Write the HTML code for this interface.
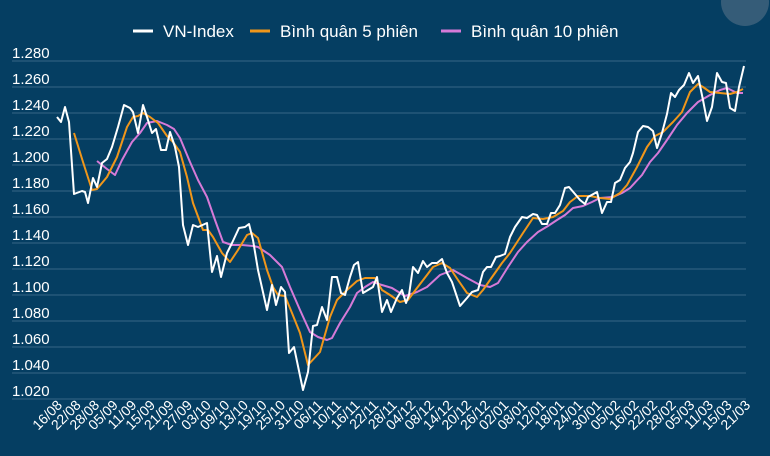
<!DOCTYPE html>
<html><head><meta charset="utf-8"><style>
html,body{margin:0;padding:0;background:#053e62;}
svg{display:block;font-family:"Liberation Sans",sans-serif;}
</style></head><body>
<svg width="770" height="456" viewBox="0 0 770 456">
<rect width="770" height="456" fill="#053e62"/>
<circle cx="745" cy="2" r="24" fill="#4a6a82" opacity="0.7"/>
<g stroke="#2e5f80" stroke-width="1.3">
<line x1="12" x2="746" y1="61" y2="61"/><line x1="12" x2="746" y1="87" y2="87"/><line x1="12" x2="746" y1="113" y2="113"/><line x1="12" x2="746" y1="139" y2="139"/><line x1="12" x2="746" y1="165" y2="165"/><line x1="12" x2="746" y1="191" y2="191"/><line x1="12" x2="746" y1="217" y2="217"/><line x1="12" x2="746" y1="243" y2="243"/><line x1="12" x2="746" y1="269" y2="269"/><line x1="12" x2="746" y1="295" y2="295"/><line x1="12" x2="746" y1="321" y2="321"/><line x1="12" x2="746" y1="347" y2="347"/><line x1="12" x2="746" y1="373" y2="373"/><line x1="12" x2="746" y1="399" y2="399"/>
</g>
<g fill="#ffffff" font-size="15">
<text x="12" y="58">1.280</text><text x="12" y="84">1.260</text><text x="12" y="110">1.240</text><text x="12" y="136">1.220</text><text x="12" y="162">1.200</text><text x="12" y="188">1.180</text><text x="12" y="214">1.160</text><text x="12" y="240">1.140</text><text x="12" y="266">1.120</text><text x="12" y="292">1.100</text><text x="12" y="318">1.080</text><text x="12" y="344">1.060</text><text x="12" y="370">1.040</text><text x="12" y="396">1.020</text>
</g>
<g fill="#ffffff" font-size="17">
<line x1="133" x2="153" y1="31" y2="31" stroke="#fff" stroke-width="3"/>
<text x="163" y="37">VN-Index</text>
<line x1="250" x2="270" y1="31" y2="31" stroke="#f0961a" stroke-width="3"/>
<text x="280" y="37">Bình quân 5 phiên</text>
<line x1="441" x2="461" y1="31" y2="31" stroke="#d67ad8" stroke-width="3"/>
<text x="471" y="37">Bình quân 10 phiên</text>
</g>
<g fill="none" stroke-width="2" stroke-linejoin="round">
<polyline stroke="#d67ad8" points="97,161 107,169 115,175 122,160 132,142 140,133 147,123 157,121 167,125 174,129 180,138 190,162 198,180 207,197 215,220 223,242 232,245 242,245 253,246 258,247 270,255 282,267 290,287 300,310 310,332 318,337 327,340 332,338 340,323 350,307 357,293 365,287 373,282 382,285 392,288 405,296 417,292 427,287 440,275 453,270 467,278 480,285 490,287 498,283 508,267 518,252 527,242 538,232 548,226 557,220 565,215 573,208 583,206 592,202 600,198 613,197 622,193 630,188 642,175 650,162 658,153 667,140 677,125 687,113 698,102 710,95 720,90 727,88 737,93 743,93"/>
<polyline stroke="#f0961a" points="74,133 83,162 92,190 97,189 107,177 117,157 127,127 133,117 138,116 143,113 150,117 158,123 167,136 173,142 180,152 187,177 193,203 203,230 208,230 213,237 222,253 230,262 238,250 247,235 252,233 258,238 267,270 273,287 278,295 285,296 292,313 300,333 308,365 320,352 330,317 337,300 347,290 357,281 365,278 375,278 382,290 390,295 400,302 408,300 417,288 427,275 433,267 442,263 450,268 458,280 467,293 477,297 483,290 490,280 502,263 510,253 523,233 533,218 543,219 553,217 563,211 570,202 578,196 590,196 600,198 610,199 620,193 627,185 637,167 647,147 655,136 663,132 673,122 682,112 690,92 698,84 703,87 710,92 720,93 730,94 737,92 743,89"/>
<polyline stroke="#ffffff" points="57,117 61,122 65,107 69,122 74,194 82,191 85,192 88,203 93,178 97,187 102,163 107,159 112,147 118,127 124,105 130,108 133,112 138,133 143,105 147,117 152,133 156,129 161,150 166,150 170,132 175,147 179,167 183,225 188,245 193,225 198,227 207,223 212,272 217,256 221,277 227,253 232,243 239,228 245,227 249,224 253,240 258,270 267,310 272,285 276,305 281,287 285,292 289,353 294,347 303,390 308,372 313,326 317,325 322,307 327,320 332,277 337,277 341,293 345,295 350,277 354,265 358,262 363,293 368,290 373,287 377,277 382,312 387,300 391,312 397,298 402,290 406,303 409,295 413,267 418,273 423,261 427,267 432,263 437,263 442,259 447,273 452,282 460,306 467,298 472,292 478,290 483,272 487,267 491,267 496,257 500,256 505,254 510,237 515,227 522,217 527,218 533,214 537,215 542,224 547,224 551,213 555,213 560,205 565,188 569,187 575,194 580,200 585,204 588,197 597,192 602,213 607,202 611,202 615,183 620,180 625,168 630,162 633,153 638,132 643,126 648,127 653,131 657,148 662,133 667,114 671,93 675,97 679,90 684,85 689,73 693,83 698,76 703,100 707,121 712,107 717,73 722,82 726,83 730,108 735,111 739,87 744,66"/>
</g>
<g fill="#ffffff" font-size="14" text-anchor="end">
<text transform="translate(63,406) rotate(-45)">16/08</text>
<text transform="translate(81.6,406) rotate(-45)">22/08</text>
<text transform="translate(100.2,406) rotate(-45)">28/08</text>
<text transform="translate(118.8,406) rotate(-45)">05/09</text>
<text transform="translate(137.4,406) rotate(-45)">11/09</text>
<text transform="translate(156,406) rotate(-45)">15/09</text>
<text transform="translate(174.6,406) rotate(-45)">21/09</text>
<text transform="translate(193.2,406) rotate(-45)">27/09</text>
<text transform="translate(211.8,406) rotate(-45)">03/10</text>
<text transform="translate(230.4,406) rotate(-45)">09/10</text>
<text transform="translate(249,406) rotate(-45)">13/10</text>
<text transform="translate(267.6,406) rotate(-45)">19/10</text>
<text transform="translate(286.2,406) rotate(-45)">25/10</text>
<text transform="translate(304.8,406) rotate(-45)">31/10</text>
<text transform="translate(323.4,406) rotate(-45)">06/11</text>
<text transform="translate(342,406) rotate(-45)">10/11</text>
<text transform="translate(360.6,406) rotate(-45)">16/11</text>
<text transform="translate(379.2,406) rotate(-45)">22/11</text>
<text transform="translate(397.8,406) rotate(-45)">28/11</text>
<text transform="translate(416.4,406) rotate(-45)">04/12</text>
<text transform="translate(435,406) rotate(-45)">08/12</text>
<text transform="translate(453.6,406) rotate(-45)">14/12</text>
<text transform="translate(472.2,406) rotate(-45)">20/12</text>
<text transform="translate(490.8,406) rotate(-45)">26/12</text>
<text transform="translate(509.4,406) rotate(-45)">02/01</text>
<text transform="translate(528,406) rotate(-45)">08/01</text>
<text transform="translate(546.6,406) rotate(-45)">12/01</text>
<text transform="translate(565.2,406) rotate(-45)">18/01</text>
<text transform="translate(583.8,406) rotate(-45)">24/01</text>
<text transform="translate(602.4,406) rotate(-45)">30/01</text>
<text transform="translate(621,406) rotate(-45)">05/02</text>
<text transform="translate(639.6,406) rotate(-45)">16/02</text>
<text transform="translate(658.2,406) rotate(-45)">22/02</text>
<text transform="translate(676.8,406) rotate(-45)">28/02</text>
<text transform="translate(695.4,406) rotate(-45)">05/03</text>
<text transform="translate(714,406) rotate(-45)">11/03</text>
<text transform="translate(732.6,406) rotate(-45)">15/03</text>
<text transform="translate(751.2,406) rotate(-45)">21/03</text>
</g>
</svg>
</body></html>
